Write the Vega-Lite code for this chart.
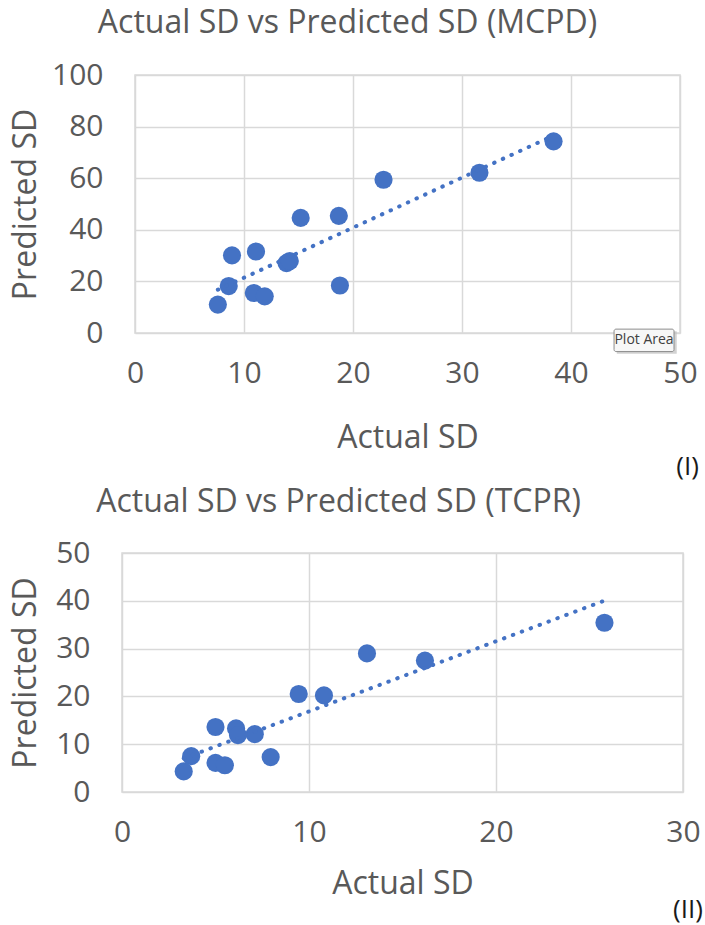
{
  "$schema": "https://vega.github.io/schema/vega-lite/v6.json",
  "background": "white",
  "padding": {"left": 8, "top": 6, "right": 0, "bottom": 0},
  "columns": 1,
  "align": "none",
  "spacing": 5,
  "datasets": {
    "mcpd": [
      {"actual": 38.4, "pred": 74.3},
      {"actual": 31.6, "pred": 62.1},
      {"actual": 22.8, "pred": 59.4},
      {"actual": 15.2, "pred": 44.6},
      {"actual": 18.7, "pred": 45.4},
      {"actual": 8.9, "pred": 30.1},
      {"actual": 11.1, "pred": 31.6},
      {"actual": 13.9, "pred": 27.1},
      {"actual": 14.2, "pred": 27.9},
      {"actual": 8.6, "pred": 18.2},
      {"actual": 18.8, "pred": 18.4},
      {"actual": 10.9, "pred": 15.5},
      {"actual": 11.9, "pred": 14.2},
      {"actual": 7.6, "pred": 11.0}
    ],
    "tcpr": [
      {"actual": 25.8, "pred": 35.4},
      {"actual": 16.2, "pred": 27.5},
      {"actual": 13.1, "pred": 29.0},
      {"actual": 9.45, "pred": 20.5},
      {"actual": 10.8, "pred": 20.2},
      {"actual": 5.0, "pred": 13.6},
      {"actual": 6.1, "pred": 13.3},
      {"actual": 6.2, "pred": 11.9},
      {"actual": 7.1, "pred": 12.1},
      {"actual": 3.7, "pred": 7.5},
      {"actual": 7.95, "pred": 7.3},
      {"actual": 5.0, "pred": 6.1},
      {"actual": 5.5, "pred": 5.6},
      {"actual": 3.3, "pred": 4.3}
    ],
    "tip": [
      {"label": "Plot Area", "x1": 43.95, "x2": 49.45, "y1": 1.5, "y2": -7.2, "xm": 46.7, "ym": -2.85, "sx1": 44.2, "sx2": 49.7, "sy1": 0.7, "sy2": -8.0}
    ],
    "blank": [{"k": 0}]
  },
  "config": {
    "font": "Open Sans",
    "view": {"stroke": "#d9d9d9", "strokeWidth": 1.5},
    "axis": {
      "grid": true, "gridColor": "#d9d9d9", "gridWidth": 1.5,
      "domain": false, "ticks": false,
      "labelColor": "#595959", "titleColor": "#595959",
      "labelFontSize": 30, "titleFontSize": 32, "titleFontWeight": "normal",
      "labelFont": "Open Sans", "titleFont": "Open Sans",
      "labelFlush": false, "labelOverlap": false, "labelPadding": 25
    },
    "title": {"color": "#595959", "fontSize": 32, "fontWeight": "normal", "font": "Open Sans"}
  },
  "concat": [
    {
      "title": {"text": "(I)", "orient": "bottom", "anchor": "end", "fontSize": 26, "color": "#1a1a1a", "offset": 0, "dx": 1},
      "bounds": "flush",
      "spacing": 10,
      "hconcat": [
        {
          "width": 3, "height": 258,
          "data": {"name": "blank"},
          "mark": {"type": "point", "opacity": 0},
          "encoding": {},
          "view": {"stroke": null}
        },
        {
          "width": 545, "height": 258,
          "title": {"text": "Actual SD vs Predicted SD (MCPD)", "anchor": "middle", "dx": -60, "offset": 20},
          "data": {"name": "mcpd"},
          "layer": [
            {
              "mark": {"type": "circle", "size": 330, "color": "#4472C4", "opacity": 1},
              "encoding": {
                "x": {"field": "actual", "type": "quantitative", "title": "Actual SD",
                      "scale": {"domain": [0, 50], "nice": false},
                      "axis": {"values": [0, 10, 20, 30, 40, 50], "titlePadding": 34}},
                "y": {"field": "pred", "type": "quantitative", "title": "Predicted SD",
                      "scale": {"domain": [0, 100], "nice": false},
                      "axis": {"values": [0, 20, 40, 60, 80, 100], "labelPadding": 32, "titlePadding": 9}}
              }
            },
            {
              "transform": [{"regression": "pred", "on": "actual"}],
              "mark": {"type": "line", "color": "#4472C4", "strokeWidth": 4, "strokeDash": [0.5, 9], "strokeCap": "round"},
              "encoding": {
                "x": {"field": "actual", "type": "quantitative"},
                "y": {"field": "pred", "type": "quantitative"}
              }
            },
            {
              "data": {"name": "tip"},
              "mark": {"type": "rect", "fill": "#bfbfbf", "opacity": 0.7},
              "encoding": {
                "x": {"field": "sx1", "type": "quantitative"}, "x2": {"field": "sx2"},
                "y": {"field": "sy1", "type": "quantitative"}, "y2": {"field": "sy2"}
              }
            },
            {
              "data": {"name": "tip"},
              "mark": {"type": "rect", "fill": "#f7f7f7", "stroke": "#8c8c8c", "strokeWidth": 1, "cornerRadius": 2},
              "encoding": {
                "x": {"field": "x1", "type": "quantitative"}, "x2": {"field": "x2"},
                "y": {"field": "y1", "type": "quantitative"}, "y2": {"field": "y2"}
              }
            },
            {
              "data": {"name": "tip"},
              "mark": {"type": "text", "fontSize": 14, "color": "#404040", "font": "Open Sans"},
              "encoding": {
                "x": {"field": "xm", "type": "quantitative"},
                "y": {"field": "ym", "type": "quantitative"},
                "text": {"field": "label"}
              }
            }
          ]
        }
      ]
    },
    {
      "title": {"text": "(II)", "orient": "bottom", "anchor": "end", "fontSize": 26, "color": "#1a1a1a", "offset": -3, "dx": 2},
      "vconcat": [
        {
          "width": 561, "height": 239,
          "title": {"text": "Actual SD vs Predicted SD (TCPR)", "anchor": "middle", "dx": -64, "offset": 19},
          "data": {"name": "tcpr"},
          "layer": [
            {
              "mark": {"type": "circle", "size": 330, "color": "#4472C4", "opacity": 1},
              "encoding": {
                "x": {"field": "actual", "type": "quantitative", "title": "Actual SD",
                      "scale": {"domain": [0, 30], "nice": false},
                      "axis": {"values": [0, 10, 20, 30], "titlePadding": 21}},
                "y": {"field": "pred", "type": "quantitative", "title": "Predicted SD",
                      "scale": {"domain": [0, 50], "nice": false},
                      "axis": {"values": [0, 10, 20, 30, 40, 50], "labelPadding": 32, "titlePadding": 13}}
              }
            },
            {
              "transform": [{"regression": "pred", "on": "actual"}],
              "mark": {"type": "line", "color": "#4472C4", "strokeWidth": 4, "strokeDash": [0.5, 9], "strokeCap": "round"},
              "encoding": {
                "x": {"field": "actual", "type": "quantitative"},
                "y": {"field": "pred", "type": "quantitative"}
              }
            }
          ]
        }
      ]
    }
  ]
}
